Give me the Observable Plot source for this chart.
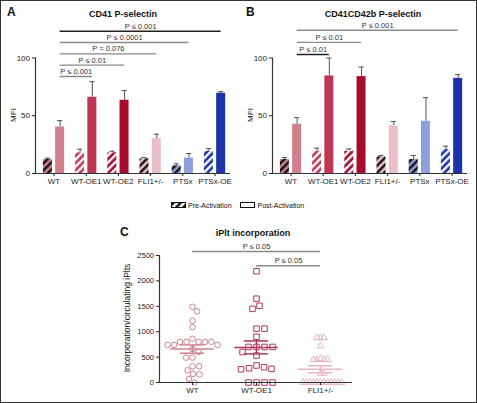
<!DOCTYPE html>
<html><head><meta charset="utf-8">
<script src="https://cdn.jsdelivr.net/npm/d3@7"></script>
<script src="https://cdn.jsdelivr.net/npm/@observablehq/plot@0.6"></script>
<style>
body{margin:0;background:#fff;}
#fig{position:relative;width:477px;height:403px;overflow:hidden;background:#fff;font-family:"Liberation Sans",Arial,sans-serif;}
#fig > svg{position:absolute;}
#border{position:absolute;left:0;top:0;width:477px;height:403px;box-sizing:border-box;border:1px solid #333;pointer-events:none}
</style></head><body><div id="fig"></div>
<script>
// ---------- DATA ----------
const groups = ["WT","WT-OE1","WT-OE2","FLI1+/-","PTSx","PTSx-OE"];

// Panel A: CD41 P-selectin (MFI, mean and upper error)
const A_pre      = [12.1, 17.9, 17.9, 12.7, 6.6, 19.3];
const A_preErr   = [1.2, 3.1, 1.4, 1.1, 1.8, 2.3];
const A_post     = [40.3, 66.0, 63.4, 30.3, 13.3, 69.5];
const A_postErr  = [5.5, 13.5, 8.4, 3.7, 4.0, 1.4];
const A_pLabels  = ["P ≤ 0.001","P ≤ 0.01","P = 0.076","P ≤ 0.0001","P ≤ 0.001"];
const A_pTargets = ["WT-OE1","WT-OE2","FLI1+/-","PTSx","PTSx-OE"];

// Panel B: CD41CD42b P-selectin
const B_pre      = [12.1, 19.3, 19.3, 14.4, 12.1, 20.7];
const B_preErr   = [1.7, 2.6, 2.0, 1.2, 3.5, 2.9];
const B_post     = [42.7, 84.4, 83.9, 41.2, 45.2, 82.4];
const B_postErr  = [5.7, 15.6, 8.3, 3.8, 20.5, 3.2];
const B_pLabels  = ["P ≤ 0.01","P ≤ 0.01","P ≤ 0.001"];
const B_pTargets = ["WT-OE1","WT-OE2","PTSx-OE"];

// Panel C: iPlt incorporation
const C_groups = ["WT","WT-OE1","FLI1+/-"];
const C_WT  = [1490,1400,1220,1090,860,800,800,800,800,800,740,740,740,660,600,490,490,320,320,240,170,160,70,0];
const C_OE1 = [2190,1650,1510,1450,1060,1060,900,700,700,700,700,600,530,335,300,280,270,260,0,0,0,0];
const C_FLI = [880,880,880,720,470,450,450,450,450,180,180,0,0,0,0,0,0,0,0,0,0,0,0];
const C_pLabels = ["P ≤ 0.05","P ≤ 0.05"];
const C_pFrom   = ["WT","WT-OE1"];
const C_pTo     = ["FLI1+/-","FLI1+/-"];

// ---------- STYLE ----------
const barColors = ["#d07f8d","#bf3554","#a60c2c","#ecbec7","#8da0dc","#1b34a8"];
const stripeColors = ["#111","#fff","#fff","#111","#111","#fff"];
const cColors = ["#d0848f","#b3375a","#ebb6c1"];
const cSymbols = ["circle","square","triangle"];
const FONT = '"Liberation Sans", Arial, sans-serif';

const fig = document.getElementById("fig");

// overlay svg with pattern defs and text
const over = d3.create("svg").attr("width",477).attr("height",403)
  .style("left","0px").style("top","0px").style("pointer-events","none")
  .style("font-family", FONT);
const defs = over.append("defs");
function stripePattern(id, bg, fg) {
  const p = defs.append("pattern").attr("id", id).attr("patternUnits","userSpaceOnUse")
    .attr("width",5).attr("height",5).attr("patternTransform","rotate(45)");
  p.append("rect").attr("width",5).attr("height",5).attr("fill",bg);
  p.append("rect").attr("width",2.4).attr("height",5).attr("fill",fg);
}
groups.forEach((g,i)=>stripePattern("pat"+i, barColors[i], stripeColors[i]));
stripePattern("patLeg","#fff","#111");

// ---------- BAR PANELS ----------
const off = 0.19, half = 0.14, cap = 0.08;
function barPanel(pre, preErr, post, postErr, pLabels, pTargets, base, step, darkIdx) {
  const rows = [];
  groups.forEach((g,i)=>{
    rows.push({i, c: i-off, v: pre[i], e: pre[i]+preErr[i], fill: `url(#pat${i})`});
    rows.push({i, c: i+off, v: post[i], e: post[i]+postErr[i], fill: barColors[i]});
  });
  const br = pTargets.map((t,k)=>({x1: off, x2: groups.indexOf(t)+off, y: base+k*step,
    label: pLabels[k], stroke: darkIdx.includes(k) ? "#222" : "#8a8a8a"}));
  const xDom = [-0.575, 5.48];
  return Plot.plot({
    width: 237, height: 190, marginLeft: 35, marginRight: 7, marginTop: 22.85, marginBottom: 17,
    x: {domain: xDom}, y: {domain: [0,130]},
    color: {type: "identity"},
    style: {fontFamily: FONT, fontSize: "8px", color: "#222", background: "transparent", overflow: "visible"},
    marks: [
      Plot.ruleX(rows, {x: "c", y1: "v", y2: "e", stroke: "#555", strokeWidth: 1}),
      Plot.ruleY(rows, {y: "e", x1: r=>r.c-cap, x2: r=>r.c+cap, stroke: "#555", strokeWidth: 1}),
      Plot.rect(rows, {x1: r=>r.c-half, x2: r=>r.c+half, y1: ()=>0, y2: "v", fill: "fill"}),
      Plot.ruleY([0], {stroke: "#333", strokeWidth: 1.2}),
      Plot.ruleX([xDom[0]], {y1: ()=>0, y2: ()=>100, stroke: "#333", strokeWidth: 1.2}),
      Plot.axisY({ticks: [0,50,100], tickSize: 3, tickPadding: 2.5, label: null}),
      Plot.axisX({ticks: d3.range(groups.length), tickFormat: i=>groups[i], tickSize: 3, tickPadding: 2, label: null}),
      Plot.ruleY(br, {y: "y", x1: "x1", x2: "x2", stroke: "stroke", strokeWidth: 1.4}),
      Plot.text(br, {x: b=>(b.x1+b.x2)/2, y: "y", text: "label", lineAnchor: "bottom", dy: -2.5, fontSize: 7.5, fill: "#333"})
    ]
  });
}

const svgA = barPanel(A_pre, A_preErr, A_post, A_postErr, A_pLabels, A_pTargets, 84, 9.8, [4]);
svgA.style.left = "0px"; svgA.style.top = "0px";
fig.appendChild(svgA);
const svgB = barPanel(B_pre, B_preErr, B_post, B_postErr, B_pLabels, B_pTargets, 103, 10.5, [0]);
svgB.style.left = "237px"; svgB.style.top = "0px";
fig.appendChild(svgB);

// ---------- PANEL C ----------
const pxPerUnitY = 127/2500, pxPerUnitX = 64;
function swarm(values, d) {
  const order = d3.range(values.length).sort((a,b)=>values[b]-values[a] || a-b);
  const placed = [], res = new Array(values.length);
  for (const i of order) {
    const y = values[i]*pxPerUnitY;
    for (let k=0;;k++) {
      const cand = k===0 ? 0 : (k%2 ? 1 : -1)*Math.ceil(k/2)*0.5;
      if (placed.every(p => (p.x-cand)**2 + (p.y-y)**2 >= d*d - 1e-6)) {
        res[i] = cand; placed.push({x: cand, y}); break;
      }
    }
  }
  return res;
}
const cSeries = [C_WT, C_OE1, C_FLI];
const cDist = [6.3, 7.6, 3.3];
const cR = [2.8, 3.1, 2.5];
const cMarks = [];
const stats = [];
cSeries.forEach((vals, gi) => {
  const offs = swarm(vals, cDist[gi]);
  const pts = vals.map((v,j)=>({x: gi + offs[j]/pxPerUnitX, v}));
  cMarks.push(Plot.dot(pts, {x: "x", y: "v", symbol: cSymbols[gi], r: cR[gi], stroke: cColors[gi], fill: "none", strokeWidth: 1}));
  const m = d3.mean(vals), sem = d3.deviation(vals)/Math.sqrt(vals.length);
  stats.push({gi, m, lo: m-sem, hi: m+sem, color: cColors[gi]});
});
const meanHalf = 0.34, semHalf = 0.19;
const cBr = C_pLabels.map((l,k)=>({x1: C_groups.indexOf(C_pFrom[k]), x2: C_groups.indexOf(C_pTo[k]), y: 2580 - k*280, label: l}));
const cxDom = [-0.516, 2.5];
const svgC = Plot.plot({
  width: 380, height: 188, marginLeft: 159, marginRight: 28, marginTop: 24.8, marginBottom: 21,
  x: {domain: cxDom}, y: {domain: [0,2800]},
  color: {type: "identity"},
  style: {fontFamily: FONT, fontSize: "7.5px", color: "#222", background: "transparent", overflow: "visible"},
  marks: [
    ...cMarks,
    Plot.ruleY(stats, {y: "m", x1: s=>s.gi-meanHalf, x2: s=>s.gi+meanHalf, stroke: "color", strokeWidth: 1.5}),
    Plot.ruleY(stats, {y: "hi", x1: s=>s.gi-semHalf, x2: s=>s.gi+semHalf, stroke: "color", strokeWidth: 1.5}),
    Plot.ruleY(stats, {y: "lo", x1: s=>s.gi-semHalf, x2: s=>s.gi+semHalf, stroke: "color", strokeWidth: 1.5}),
    Plot.ruleX(stats, {x: "gi", y1: "lo", y2: "hi", stroke: "color", strokeWidth: 1.5}),
    Plot.ruleY([0], {stroke: "#333", strokeWidth: 1.2}),
    Plot.ruleX([cxDom[0]], {y1: ()=>0, y2: ()=>2500, stroke: "#333", strokeWidth: 1.2}),
    Plot.axisY({ticks: d3.range(0, 2501, 500), tickFormat: d=>String(d), tickSize: 3, tickPadding: 2.5, label: null}),
    Plot.axisX({ticks: d3.range(C_groups.length), tickFormat: i=>C_groups[i], tickSize: 3, tickPadding: 2, fontSize: 8, label: null}),
    Plot.ruleY(cBr, {y: "y", x1: "x1", x2: "x2", stroke: "#8a8a8a", strokeWidth: 1.4}),
    Plot.text(cBr, {x: b=>(b.x1+b.x2)/2, y: "y", text: "label", lineAnchor: "bottom", dy: -2.5, fontSize: 7.5, fill: "#333"})
  ]
});
svgC.style.left = "0px"; svgC.style.top = "215px";
fig.appendChild(svgC);

// ---------- TEXT OVERLAY ----------
function t(x, y, s, opts={}) {
  const e = over.append("text").attr("x",x).attr("y",y).text(s)
    .attr("font-size", opts.size || 8).attr("fill", opts.fill || "#111")
    .attr("text-anchor", opts.anchor || "start");
  if (opts.bold) e.attr("font-weight","bold");
  if (opts.rotate) e.attr("transform", `rotate(-90 ${x} ${y})`).attr("dominant-baseline","middle");
  return e;
}
t(7, 16, "A", {size: 12, bold: true});
t(123, 17, "CD41 P-selectin", {size: 9, bold: true, anchor: "middle"});
t(14, 115, "MFI", {size: 8, anchor: "middle", rotate: true});
t(246, 16, "B", {size: 12, bold: true});
t(373, 17, "CD41CD42b P-selectin", {size: 9, bold: true, anchor: "middle"});
t(251, 115, "MFI", {size: 8, anchor: "middle", rotate: true});
// legend
over.append("rect").attr("x",171.5).attr("y",202.5).attr("width",14).attr("height",5)
  .attr("fill","url(#patLeg)").attr("stroke","#111").attr("stroke-width",1);
t(188, 207.8, "Pre-Activation", {size: 7});
over.append("rect").attr("x",240.5).attr("y",202.5).attr("width",14).attr("height",5)
  .attr("fill","#fff").attr("stroke","#111").attr("stroke-width",1);
t(257.5, 207.8, "Post-Activation", {size: 7});
// panel C
t(120, 236, "C", {size: 12, bold: true});
t(253, 236, "iPlt incorporation", {size: 9, bold: true, anchor: "middle"});
t(128, 318, "Incorporation/circulating iPlts", {size: 8.5, anchor: "middle", rotate: true});

fig.appendChild(over.node());
const bd = document.createElement("div"); bd.id = "border"; fig.appendChild(bd);
</script></body></html>
